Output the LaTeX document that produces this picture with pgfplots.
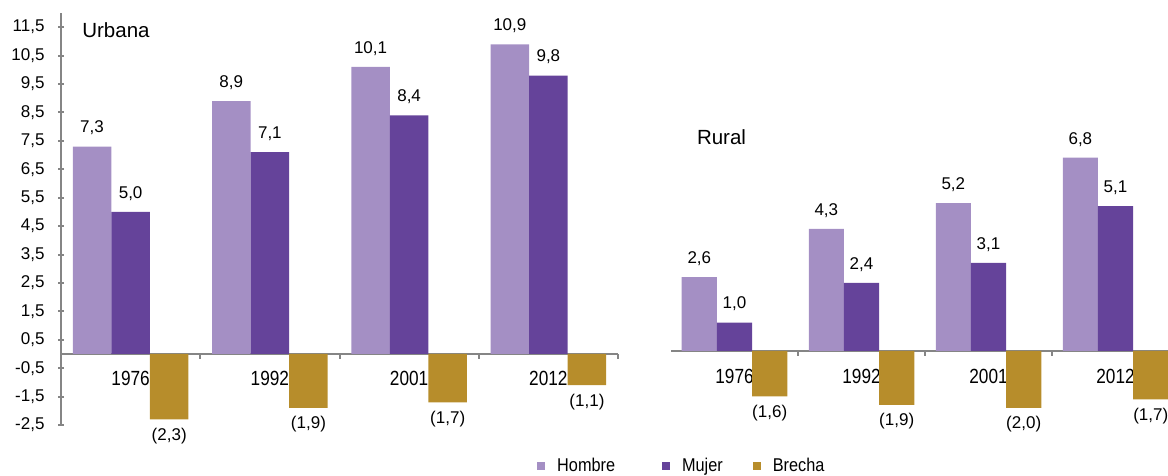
\documentclass[border=0pt]{standalone}
\usepackage{pgfplots}
\usepackage{pgfplotstable}
\pgfplotsset{compat=1.18}
\usepackage{fontspec}
\setmainfont{Liberation Sans}
\newfontfamily\narrow{Liberation Sans}[FakeStretch=0.84]
\newfontfamily\legfont{Liberation Sans}[FakeStretch=0.88]

\definecolor{hombre}{HTML}{A48FC4}
\definecolor{mujer}{HTML}{65439A}
\definecolor{brecha}{HTML}{B78D2B}
\definecolor{axisgray}{HTML}{858585}

% x: category index; h, m: Hombre / Mujer; b: gap (drawn negative); labels as printed
\pgfplotstableread{
x  h     m    b     hl    ml    bl
0  7.3   5.0  -2.3  7,3   5,0   (2,3)
1  8.9   7.1  -1.9  8,9   7,1   (1,9)
2  10.1  8.4  -1.7  10,1  8,4   (1,7)
3  10.9  9.8  -1.1  10,9  9,8   (1,1)
}\urbana

\pgfplotstableread{
x  h     m    b     hl    ml    bl
0  2.6   1.0  -1.6  2,6   1,0   (1,6)
1  4.3   2.4  -1.9  4,3   2,4   (1,9)
2  5.2   3.1  -2.0  5,2   3,1   (2,0)
3  6.8   5.1  -1.7  6,8   5,1   (1,7)
}\rural

\newcommand{\lbl}{\fontsize{17}{20}\selectfont}
\newcommand{\yrs}{\narrow\fontsize{20.5}{24}\selectfont}
\newcommand{\leg}{\legfont\fontsize{18.5}{22}\selectfont}
\newcommand{\ttl}{\fontsize{20.5}{24}\selectfont}

\pgfplotsset{
  panel/.style={
    scale only axis, height=412pt,
    xmin=-0.5, ymin=-2.5, ymax=12,
    ybar=0pt, bar width=0.277,
    axis x line=middle,
    axis line style={draw=axisgray, line width=2.5pt, -},
    tick align=outside,
    xtick={0,1,2,3}, xticklabels={1976,1992,2001,2012},
    major x tick style={draw=none},
    minor xtick={0.5,1.5,2.5,3.5},
    minor x tick style={draw=axisgray, line width=2pt},
    minor tick length=5pt,
    xticklabel style={font=\yrs, yshift=-8pt},
    hide obscured x ticks=false,
    hide obscured y ticks=false,
    nodes near coords, point meta=explicit symbolic,
    every node near coord/.append style={font=\lbl, text=black},
    clip=false,
  },
  swatch/.style={legend image code/.code={\fill[#1] (0pt,-4pt) rectangle (8pt,4pt);}},
  bars/.style={fill=#1, draw=none, swatch=#1},
  up/.style={every node near coord/.append style={anchor=south, yshift=8pt}},
  down/.style={every node near coord/.append style={anchor=north, yshift=-5pt}},
}

\begin{document}
\begin{tikzpicture}
\useasboundingbox (0pt,0pt) rectangle (1168pt,476pt);

% Urbana
\begin{axis}[panel, at={(61pt,51pt)}, anchor=south west, width=557pt, xmax=3.5,
  axis y line=left, y axis line style={-},
  ytick={-2.5,-1.5,-0.5,0.5,1.5,2.5,3.5,4.5,5.5,6.5,7.5,8.5,9.5,10.5,11.5},
  y tick style={draw=axisgray, line width=2pt}, major tick length=6pt,
  yticklabel style={font=\lbl, xshift=-10pt, /pgf/number format/.cd, fixed, fixed zerofill,
    precision=1, use comma, assume math mode=true},
  legend style={at={(0.8546,-0.0995)}, anchor=west, draw=none, fill=none,
    inner sep=0pt, legend columns=3, font=\leg,
    /tikz/every odd column/.append style={column sep=10pt},
    /tikz/column 2/.append style={column sep=45pt},
    /tikz/column 4/.append style={column sep=28pt}},
]
\addplot[bars=hombre, up] table[x=x, y=h, meta=hl] {\urbana};
\addlegendentry{Hombre}
\addplot[bars=mujer, up] table[x=x, y=m, meta=ml] {\urbana};
\addlegendentry{Mujer}
\addplot[bars=brecha, down] table[x=x, y=b, meta=bl] {\urbana};
\addlegendentry{Brecha}
\node[anchor=west, inner sep=0pt, font=\ttl] at (rel axis cs:0.038,0.959) {Urbana};
\end{axis}

% Rural
\begin{axis}[panel, at={(671pt,54pt)}, anchor=south west, width=497pt, xmax=3.413,
  axis y line=none, ytick=\empty,
  xticklabel style={yshift=-2pt},
]
\addplot[bars=hombre, up] table[x=x, y=h, meta=hl] {\rural};
\addplot[bars=mujer, up] table[x=x, y=m, meta=ml] {\rural};
\addplot[bars=brecha, down] table[x=x, y=b, meta=bl] {\rural};
\node[anchor=west, inner sep=0pt, font=\ttl] at (rel axis cs:0.052,0.692) {Rural};
\end{axis}
\end{tikzpicture}
\end{document}
